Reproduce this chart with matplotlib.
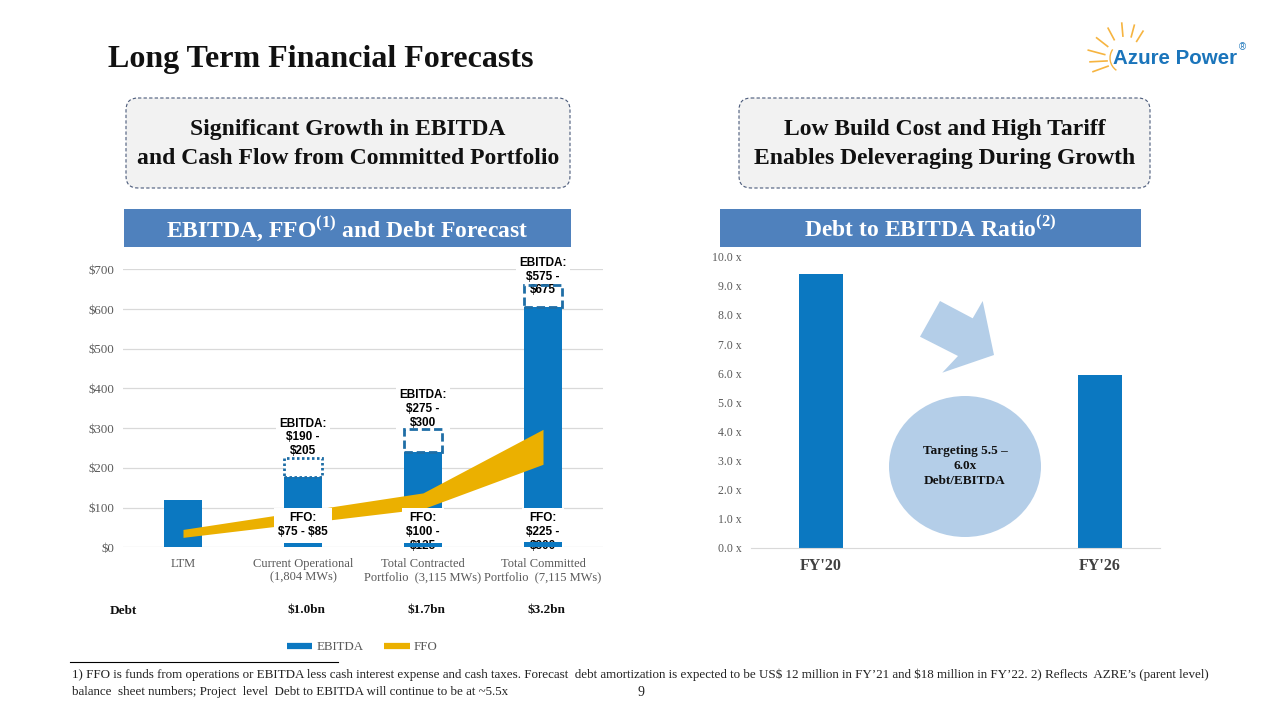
import matplotlib
matplotlib.use('Agg')
import matplotlib.pyplot as plt
import numpy as np
from matplotlib.patches import Rectangle, FancyBboxPatch, Polygon, Ellipse, Arc
from matplotlib.transforms import Affine2D
from matplotlib.lines import Line2D

plt.rcParams['mathtext.fontset'] = 'custom'
plt.rcParams['mathtext.rm'] = 'Liberation Serif:bold'
plt.rcParams['mathtext.bf'] = 'Liberation Serif:bold'

# ---------------- data ----------------
categories = ['LTM', 'Current Operational\n(1,804 MWs)',
              'Total Contracted\nPortfolio  (3,115 MWs)',
              'Total Committed\nPortfolio  (7,115 MWs)']
ebitda_stub = [0, 12, 10, 14]
ebitda_solid_low = [0, 100, 100, 100]
ebitda_solid_high = [120, 178, 240, 606]
ebitda_range_high = [np.nan, 225, 297, 660]
ffo_low = [25, 61, 97, 209]
ffo_high = [45, 91, 137, 297]
ebitda_labels = ['', 'EBITDA:\n$190 -\n$205', 'EBITDA:\n$275 -\n$300', 'EBITDA:\n$575 -\n$675']
ffo_labels = ['', 'FFO:\n$75 - $85', 'FFO:\n$100 -\n$125', 'FFO:\n$225 -\n$300']
debt_labels = ['', '$1.0bn', '$1.7bn', '$3.2bn']
left_ticks = [0, 100, 200, 300, 400, 500, 600, 700]
left_ticklabels = ['$0', '$100', '$200', '$300', '$400', '$500', '$600', '$700']

ratio_categories = ["FY'20", '', "FY'26"]
ratio_values = [9.4, np.nan, 5.95]
right_ticks = [0, 1, 2, 3, 4, 5, 6, 7, 8, 9, 10]
right_ticklabels = ['%.1f x' % t for t in right_ticks]

# ---------------- styling ----------------
BLUE = '#0B78C1'
GOLD = '#EBB000'
BOXEDGE = '#1F6EA6'
BANNER = '#4F81BD'
GRAY = '#595959'
SERIF = 'Liberation Serif'
SANS = 'Liberation Sans'

fig = plt.figure(figsize=(12.8, 7.2), dpi=100)
fig.patch.set_facecolor('white')
# pixel transform (origin top-left)
T = Affine2D().scale(1 / 100, -1 / 100).translate(0, 7.2) + fig.dpi_scale_trans


def axes_px(x0, y0, x1, y1):
    return fig.add_axes([x0 / 1280, 1 - y1 / 720, (x1 - x0) / 1280, (y1 - y0) / 720])


# ---------------- title & logo ----------------
fig.text(108, 67, 'Long Term Financial Forecasts', transform=T, fontsize=23,
         fontweight='bold', family=SERIF, color='#111111', va='baseline', ha='left')

cx, cy = 1125, 60
SUN = '#F6B440'
for ang, r0, r1 in [(58, 22, 34), (75, 24, 36), (95, 24, 37), (118, 23, 36), (142, 22, 36),
                    (165, 21, 38), (183, 18, 35), (200, 18, 34)]:
    a = np.deg2rad(ang)
    fig.add_artist(Line2D([cx + r0 * np.cos(a), cx + r1 * np.cos(a)],
                          [cy - r0 * np.sin(a), cy - r1 * np.sin(a)],
                          transform=T, color=SUN, lw=1.2))
fig.add_artist(Arc((cx, cy - 2), 30, 30, theta1=125, theta2=215, transform=T,
                   color=SUN, lw=1.0))
fig.text(1113, 64, 'Azure Power', transform=T, fontsize=14.8, fontweight='bold',
         family=SANS, color='#1B75BB', va='baseline', ha='left')
fig.text(1239, 50, '®', transform=T, fontsize=7, family=SANS, color='#1B75BB',
         va='baseline', ha='left')

# ---------------- header boxes ----------------
for (x0, x1, txt) in [(126, 570, 'Significant Growth in EBITDA\nand Cash Flow from Committed Portfolio'),
                      (739, 1150, 'Low Build Cost and High Tariff\nEnables Deleveraging During Growth')]:
    fig.add_artist(FancyBboxPatch((x0, 98), x1 - x0, 90, boxstyle='round,pad=0,rounding_size=12',
                                  transform=T, facecolor='#F2F2F2', edgecolor='#4A5A7A',
                                  lw=0.8, linestyle=(0, (3, 2))))
    fig.text((x0 + x1) / 2, 144, txt, transform=T, fontsize=17, fontweight='bold',
             family=SERIF, color='#111111', ha='center', va='center', linespacing=1.5)

for (x0, x1, txt) in [(124, 571, r'EBITDA, FFO$^{(1)}$ and Debt Forecast'),
                      (720, 1141, r'Debt to EBITDA Ratio$^{(2)}$')]:
    fig.add_artist(Rectangle((x0, 209), x1 - x0, 38, transform=T, facecolor=BANNER,
                             edgecolor='none'))
    fig.text((x0 + x1) / 2, 229, txt, transform=T, fontsize=17, fontweight='bold',
             family=SERIF, color='white', ha='center', va='center')

# ---------------- left chart ----------------
ax = axes_px(123, 269.3, 603, 547.3)
x = np.arange(len(categories))
bw = 0.31
ax.set_xlim(-0.5, len(categories) - 0.5)
ax.set_ylim(0, 700)
ax.set_yticks(left_ticks)
ax.set_yticklabels(left_ticklabels, family=SERIF, fontsize=9.3, color=GRAY)
ax.tick_params(axis='y', length=0, pad=6)
ax.set_xticks(x)
ax.set_xticklabels(categories, family=SERIF, fontsize=9, color=GRAY, linespacing=1.05)
ax.tick_params(axis='x', length=0, pad=8)
for s in ax.spines.values():
    s.set_visible(False)
ax.grid(axis='y', color='#D9D9D9', lw=0.9)
ax.set_axisbelow(True)

low = np.array(ebitda_solid_low, float)
high = np.array(ebitda_solid_high, float)
rng = np.array(ebitda_range_high, float)
ax.bar(x, high - low, bottom=low, width=bw, color=BLUE, zorder=2)
ax.bar(x, ebitda_stub, width=bw, color=BLUE, zorder=6)
box_styles = [None, (0, (0.9, 0.9)), (0, (3, 1.4)), (0, (3, 1.4))]
for i in range(len(categories)):
    if np.isnan(rng[i]):
        continue
    ax.bar(x[i], rng[i] - high[i], bottom=high[i], width=bw, color='white',
           edgecolor='none', zorder=2.5)
    ax.bar(x[i], rng[i] - high[i], bottom=high[i], width=bw, fill=False,
           edgecolor=BOXEDGE, lw=2.0, linestyle=box_styles[i], zorder=7)

ax.fill_between(x, ffo_low, ffo_high, color=GOLD, lw=0, zorder=3)

for i in range(len(categories)):
    if ebitda_labels[i]:
        ytop = min(rng[i] + 2, 632)
        ax.text(x[i], ytop, ebitda_labels[i], ha='center', va='bottom', fontsize=8.5,
                fontweight='bold', family=SANS, color='black', linespacing=1.2,
                parse_math=False, zorder=5,
                bbox=dict(boxstyle='square,pad=0.3', fc='white', ec='none'))
    if ffo_labels[i]:
        ax.text(x[i], 89, ffo_labels[i], ha='center', va='top', fontsize=8.5,
                fontweight='bold', family=SANS, color='black', linespacing=1.2,
                parse_math=False, zorder=5,
                bbox=dict(boxstyle='square,pad=0.35', fc='white', ec='none'))

# Debt row
fig.text(110, 611, 'Debt', transform=T, fontsize=9.5, fontweight='bold', family=SERIF,
         color='#111111', ha='left', va='center')
for i, d in enumerate(debt_labels):
    if d:
        xd = ax.transData.transform((x[i], 0))[0]
        fig.text(xd / fig.dpi * 100 + 3, 610, d, transform=T, fontsize=9.5, fontweight='bold',
                 family=SERIF, color='#111111', ha='center', va='center', parse_math=False)

# legend
handles = [Line2D([], [], color=BLUE, lw=4.5, solid_capstyle='butt'),
           Line2D([], [], color=GOLD, lw=4.5, solid_capstyle='butt')]
fig.legend(handles, ['EBITDA', 'FFO'], loc='center', bbox_to_anchor=(362 / 1280, 1 - 647 / 720),
           ncol=2, frameon=False, handlelength=2.0, handletextpad=0.3, columnspacing=1.6,
           prop=dict(family=SERIF, size=9.3), labelcolor=GRAY)

# ---------------- right chart ----------------
ax2 = axes_px(751, 256.7, 1160, 548)
xr = np.arange(len(ratio_categories))
ax2.set_xlim(-0.5, 2.43)
ax2.set_ylim(0, 10)
ax2.bar(xr, ratio_values, width=0.315, color=BLUE, zorder=2)
ax2.set_yticks(right_ticks)
ax2.set_yticklabels(right_ticklabels, family=SERIF, fontsize=8.5, color=GRAY)
ax2.tick_params(axis='y', length=0, pad=7)
ax2.set_xticks([0, 2])
ax2.set_xticklabels([ratio_categories[0], ratio_categories[2]], family=SERIF, fontsize=11.5,
                    fontweight='bold', color='#404040')
ax2.tick_params(axis='x', length=0, pad=7)
for k in ['left', 'right', 'top']:
    ax2.spines[k].set_visible(False)
ax2.spines['bottom'].set_color('#D9D9D9')

# arrow and circle
arrow_pts = [(940, 301), (972.7, 318.3), (982.7, 301), (994, 355), (942.3, 372.7),
             (958, 356), (920, 336.7)]
fig.add_artist(Polygon(arrow_pts, closed=True, transform=T, facecolor='#B4CEE8',
                       edgecolor='none'))
fig.add_artist(Ellipse((965, 466.5), 152, 141, transform=T, facecolor='#B4CEE8',
                       edgecolor='none'))
fig.text(965, 466, 'Targeting 5.5 \u2013\n6.0x\nDebt/EBITDA', transform=T, fontsize=9.5,
         fontweight='bold', family=SERIF, color='#111111', ha='center', va='center',
         linespacing=1.32)

# ---------------- footnote ----------------
fig.add_artist(Line2D([70, 338], [662, 662], transform=T, color='black', lw=0.8))
fig.text(72, 675, "1) FFO is funds from operations or EBITDA less cash interest expense and cash taxes. "
                  "Forecast  debt amortization is expected to be US$ 12 million in FY\u201921 and $18 million "
                  "in FY\u201922. 2) Reflects  AZRE\u2019s (parent level)",
         transform=T, fontsize=9.4, family=SERIF, color='#222222', ha='left', va='center',
         parse_math=False)
fig.text(72, 692, "balance  sheet numbers; Project  level  Debt to EBITDA will continue to be at ~5.5x",
         transform=T, fontsize=9.4, family=SERIF, color='#222222', ha='left', va='center',
         parse_math=False)
fig.text(641, 693, '9', transform=T, fontsize=10, family=SERIF, color='#222222',
         ha='center', va='center')

fig.savefig('out.png', dpi=100, facecolor='white')
